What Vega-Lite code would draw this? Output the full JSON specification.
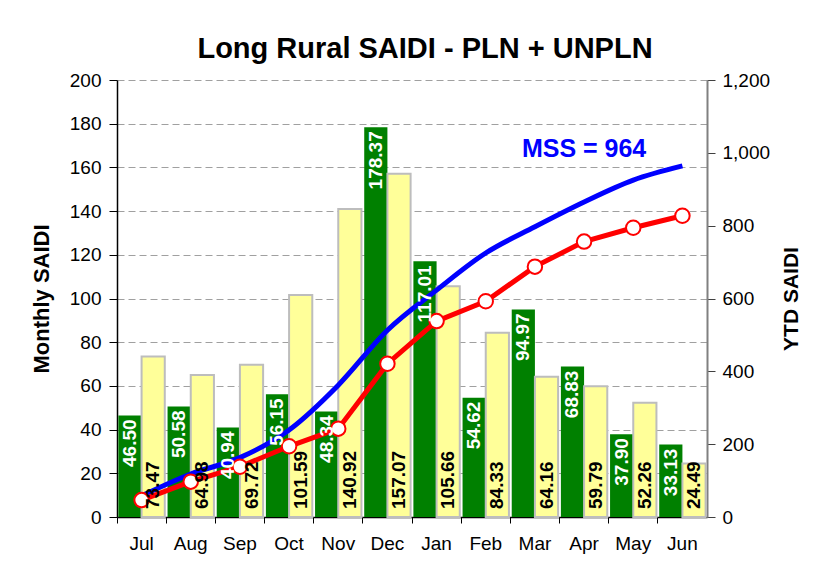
{
  "$schema": "https://vega.github.io/schema/vega-lite/v6.json",
  "width": 590,
  "height": 437,
  "autosize": {"type": "none"},
  "padding": {"left": 117, "top": 80, "right": 119, "bottom": 45},
  "background": "white",
  "config": {
    "view": {"stroke": null},
    "font": "Liberation Sans",
    "axis": {"labelFont": "Liberation Sans", "titleFont": "Liberation Sans", "labelColor": "black", "titleColor": "black"}
  },
  "title": {
    "text": "Long Rural SAIDI - PLN + UNPLN",
    "fontSize": 29,
    "fontWeight": "bold",
    "font": "Liberation Sans",
    "color": "black",
    "anchor": "middle",
    "dx": 13,
    "offset": 7
  },
  "data": {
    "values": [
      {"month": "Jul", "cur": 46.50, "prev": 73.47, "ytd": 46.50, "mss": 58},
      {"month": "Aug", "cur": 50.58, "prev": 64.98, "ytd": 97.08, "mss": 118},
      {"month": "Sep", "cur": 40.94, "prev": 69.72, "ytd": 138.02, "mss": 163},
      {"month": "Oct", "cur": 56.15, "prev": 101.59, "ytd": 194.17, "mss": 239},
      {"month": "Nov", "cur": 48.34, "prev": 140.92, "ytd": 242.51, "mss": 362},
      {"month": "Dec", "cur": 178.37, "prev": 157.07, "ytd": 420.88, "mss": 513},
      {"month": "Jan", "cur": 117.01, "prev": 105.66, "ytd": 537.89, "mss": 623},
      {"month": "Feb", "cur": 54.62, "prev": 84.33, "ytd": 592.51, "mss": 725},
      {"month": "Mar", "cur": 94.97, "prev": 64.16, "ytd": 687.48, "mss": 797},
      {"month": "Apr", "cur": 68.83, "prev": 59.79, "ytd": 756.31, "mss": 865},
      {"month": "May", "cur": 37.90, "prev": 52.26, "ytd": 794.21, "mss": 925},
      {"month": "Jun", "cur": 33.13, "prev": 24.49, "ytd": 827.34, "mss": 964}
    ]
  },
  "encoding": {
    "x": {
      "field": "month",
      "type": "nominal",
      "sort": null,
      "scale": {"paddingInner": 0, "paddingOuter": 0},
      "axis": {
        "title": null,
        "labelAngle": 0,
        "labelFontSize": 19,
        "labelPadding": 11,
        "bandPosition": 0,
        "tickSize": 6,
        "tickColor": "black",
        "domainColor": "black",
        "domainWidth": 1.5,
        "grid": false
      }
    }
  },
  "layer": [
    {
      "transform": [{"fold": ["cur", "prev"], "as": ["series", "val"]}],
      "encoding": {
        "xOffset": {"field": "series", "type": "nominal", "scale": {"domain": ["cur", "prev"], "paddingOuter": 0.06, "paddingInner": 0}},
        "y": {
          "field": "val",
          "type": "quantitative",
          "scale": {"domain": [0, 200]},
          "axis": {
            "title": "Monthly SAIDI",
            "titleFontSize": 22,
            "titleFontWeight": "bold",
            "titlePadding": 16,
            "values": [0, 20, 40, 60, 80, 100, 120, 140, 160, 180, 200],
            "labelFontSize": 19,
            "labelPadding": 8,
            "tickSize": 8,
            "tickColor": "black",
            "domainColor": "black",
            "domainWidth": 1.5,
            "grid": true,
            "gridColor": "#A0A0A0",
            "gridDash": [7, 4],
            "gridWidth": 1
          }
        }
      },
      "layer": [
        {"transform": [{"filter": "datum.series === 'cur'"}], "mark": {"type": "bar", "color": "#008000"}},
        {"transform": [{"filter": "datum.series === 'prev'"}], "mark": {"type": "bar", "color": "#FFFF99", "stroke": "#BDBDBD", "strokeWidth": 2}}
      ]
    },
    {
      "layer": [
        {
          "mark": {"type": "line", "color": "#0000FF", "strokeWidth": 5, "interpolate": "monotone"},
          "encoding": {
            "y": {
              "field": "mss",
              "type": "quantitative",
              "scale": {"domain": [0, 1200]},
              "axis": {
                "orient": "right",
                "title": "YTD SAIDI",
                "titleAngle": -90,
                "titleFontSize": 21,
                "titleFontWeight": "bold",
                "titlePadding": 32,
                "values": [0, 200, 400, 600, 800, 1000, 1200],
                "format": ",d",
                "labelFontSize": 19,
                "labelPadding": 7,
                "tickSize": 8,
                "tickColor": "#404040",
                "domainColor": "#808080",
                "domainWidth": 2,
                "grid": false
              }
            }
          }
        },
        {
          "mark": {"type": "line", "color": "#FF0000", "strokeWidth": 5},
          "encoding": {"y": {"field": "ytd", "type": "quantitative"}}
        },
        {
          "mark": {"type": "point", "shape": "circle", "filled": true, "fill": "white", "stroke": "#FF0000", "strokeWidth": 2, "size": 210, "opacity": 1},
          "encoding": {"y": {"field": "ytd", "type": "quantitative"}}
        },
        {
          "data": {"values": [{"month": "Apr", "pos": 1010, "label": "MSS = 964"}]},
          "mark": {"type": "text", "color": "#0000FF", "fontSize": 25, "fontWeight": "bold", "font": "Liberation Sans", "align": "center", "baseline": "middle"},
          "encoding": {"y": {"field": "pos", "type": "quantitative"}, "text": {"field": "label"}}
        }
      ]
    },
    {
      "transform": [{"fold": ["cur", "prev"], "as": ["series", "val"]}],
      "encoding": {
        "xOffset": {"field": "series", "type": "nominal", "scale": {"domain": ["cur", "prev"], "paddingOuter": 0.06, "paddingInner": 0}},
        "y": {"field": "val", "type": "quantitative", "scale": {"domain": [0, 200]}, "axis": null},
        "text": {"field": "val", "type": "quantitative", "format": ".2f"}
      },
      "layer": [
        {
          "transform": [{"filter": "datum.series === 'cur'"}],
          "mark": {"type": "text", "angle": -90, "align": "right", "baseline": "middle", "dx": -4, "color": "white", "fontSize": 19, "fontWeight": "bold", "font": "Liberation Sans"}
        },
        {
          "transform": [{"filter": "datum.series === 'prev'"}],
          "mark": {"type": "text", "angle": -90, "align": "left", "baseline": "middle", "dx": 8, "color": "black", "fontSize": 19, "fontWeight": "bold", "font": "Liberation Sans"},
          "encoding": {"y": {"datum": 0, "type": "quantitative", "scale": {"domain": [0, 200]}, "axis": null}}
        }
      ]
    }
  ],
  "resolve": {"scale": {"y": "independent"}}
}
